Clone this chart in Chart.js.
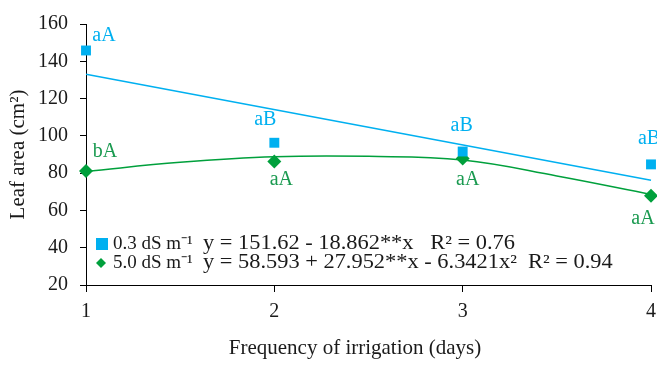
<!DOCTYPE html>
<html>
<head>
<meta charset="utf-8">
<script src="https://cdn.jsdelivr.net/npm/chart.js@4/dist/chart.umd.min.js"></script>
<style>
  html, body { margin: 0; padding: 0; background: #fff; }
  #wrap { width: 657px; height: 365px; }
</style>
</head>
<body>
<div id="wrap"><canvas id="leafChart" width="657" height="365"></canvas></div>
<script>
// frequency of irrigation (days)
const days = [1, 2, 3, 4];

// observed leaf area (cm2)
const low = [145.8, 96.3, 91.6, 84.7];     // 0.3 dS m-1
const high = [81.1, 86.3, 87.9, 67.9];     // 5.0 dS m-1

// letters shown beside the points
const lowLetters = ['aA', 'aB', 'aB', 'aB'];
const highLetters = ['bA', 'aA', 'aA', 'aA'];

// fitted lines
const lowFitX = [1, 4];
const lowFitY = [133, 76.2];
const highFitX = [1, 1.5, 2, 2.5, 3, 3.5, 4];
const highFitY = [80.9, 85.8, 88.8, 89.0, 87.0, 78.5, 68.6];

const yTicks = [20, 40, 60, 80, 100, 120, 140, 160];

const BLUE = '#00b0f0';
const GREEN = '#00a03c';
const GREEN_TEXT = '#1a9a50';
const INK = '#1a1a1a';
const SERIF = '"Liberation Serif", "Times New Roman", serif';

function toXY(xs, ys) {
    return xs.map((x, i) => ({ x: x, y: ys[i] }));
}

// letters placed around each marker
const letterPlugin = {
    id: 'letters',
    afterDatasetsDraw(chart) {
        const ctx = chart.ctx;
        const xs = chart.scales.x;
        const ys = chart.scales.y;
        const lowOff = [[18, -15], [-9, -23], [-1, -26], [-2, -26]];
        const highOff = [[19, -19], [7, 18], [5, 21], [-8, 23]];
        ctx.save();
        ctx.font = '20px ' + SERIF;
        ctx.textAlign = 'center';
        ctx.textBaseline = 'middle';
        days.forEach((d, i) => {
            ctx.fillStyle = BLUE;
            ctx.fillText(lowLetters[i], xs.getPixelForValue(d) + lowOff[i][0], ys.getPixelForValue(low[i]) + lowOff[i][1]);
            ctx.fillStyle = GREEN_TEXT;
            ctx.fillText(highLetters[i], xs.getPixelForValue(d) + highOff[i][0], ys.getPixelForValue(high[i]) + highOff[i][1]);
        });
        ctx.restore();
    }
};

// stretched text, the source figure is a little wider than tall
function wideText(ctx, text, x, y, sx) {
    ctx.save();
    ctx.translate(x, y);
    ctx.scale(sx, 1);
    ctx.fillText(text, 0, 0);
    ctx.restore();
}

// equations box inside the plot area + x axis title
const equationPlugin = {
    id: 'equations',
    afterDraw(chart) {
        const ctx = chart.ctx;
        const left = chart.chartArea.left;
        ctx.save();
        ctx.textBaseline = 'middle';

        // square marker
        ctx.fillStyle = BLUE;
        ctx.fillRect(left + 10, 238, 12, 12);
        // diamond marker
        ctx.fillStyle = GREEN;
        ctx.beginPath();
        ctx.moveTo(left + 15, 258);
        ctx.lineTo(left + 20, 263);
        ctx.lineTo(left + 15, 268);
        ctx.lineTo(left + 10, 263);
        ctx.closePath();
        ctx.fill();

        ctx.fillStyle = INK;
        ctx.font = '19px ' + SERIF;
        ctx.fillText('0.3 dS m\u207B\u00B9', left + 27, 244);
        ctx.fillText('5.0 dS m\u207B\u00B9', left + 27, 263);
        ctx.font = '20px ' + SERIF;
        wideText(ctx, 'y = 151.62 - 18.862**x   R\u00B2 = 0.76', left + 117, 244, 1.12);
        wideText(ctx, 'y = 58.593 + 27.952**x - 6.3421x\u00B2  R\u00B2 = 0.94', left + 117, 263, 1.12);

        ctx.font = '21px ' + SERIF;
        ctx.textAlign = 'center';
        ctx.fillText('Frequency of irrigation (days)', 355, 348);
        ctx.restore();
    }
};

const ctx = document.getElementById('leafChart').getContext('2d');
new Chart(ctx, {
    type: 'scatter',
    data: {
        datasets: [
            {
                label: 'fit 0.3',
                data: toXY(lowFitX, lowFitY),
                showLine: true,
                borderColor: BLUE,
                borderWidth: 1.5,
                pointRadius: 0,
                clip: false,
                fill: false
            },
            {
                label: 'fit 5.0',
                data: toXY(highFitX, highFitY),
                showLine: true,
                borderColor: GREEN,
                borderWidth: 1.5,
                pointRadius: 0,
                tension: 0.4,
                clip: false,
                fill: false
            },
            {
                label: '0.3 dS m-1',
                data: toXY(days, low),
                pointStyle: 'rect',
                pointRadius: 7,
                backgroundColor: BLUE,
                borderColor: BLUE,
                borderWidth: 0,
                clip: false
            },
            {
                label: '5.0 dS m-1',
                data: toXY(days, high),
                pointStyle: 'rectRot',
                pointRadius: 7,
                backgroundColor: GREEN,
                borderColor: GREEN,
                borderWidth: 0,
                clip: false
            }
        ]
    },
    options: {
        responsive: false,
        animation: false,
        layout: { autoPadding: false, padding: { top: 19, right: 6, left: 0, bottom: 0 } },
        plugins: {
            legend: { display: false },
            tooltip: { enabled: false }
        },
        scales: {
            x: {
                type: 'linear',
                min: 1,
                max: 4,
                ticks: {
                    stepSize: 1,
                    color: INK,
                    font: { family: SERIF, size: 20 },
                    padding: 8
                },
                grid: {
                    drawOnChartArea: false,
                    drawTicks: true,
                    tickLength: 7,
                    color: '#000'
                },
                border: { color: '#000', width: 1 },
                afterFit(scale) {
                    scale.height = 80;
                    scale.paddingLeft = 0;
                    scale.paddingRight = 0;
                }
            },
            y: {
                min: 20,
                max: 160,
                afterBuildTicks(scale) {
                    scale.ticks = yTicks.map(v => ({ value: v }));
                },
                ticks: {
                    color: INK,
                    font: { family: SERIF, size: 20 },
                    padding: 12
                },
                grid: {
                    drawOnChartArea: false,
                    drawTicks: true,
                    tickLength: 6,
                    color: '#000'
                },
                border: { color: '#000', width: 1 },
                title: {
                    display: true,
                    text: 'Leaf area (cm\u00B2)',
                    color: INK,
                    font: { family: SERIF, size: 21 },
                    padding: { bottom: 4, top: 6 }
                },
                afterFit(scale) { scale.width = 86; }
            }
        }
    },
    plugins: [letterPlugin, equationPlugin]
});
</script>
</body>
</html>
